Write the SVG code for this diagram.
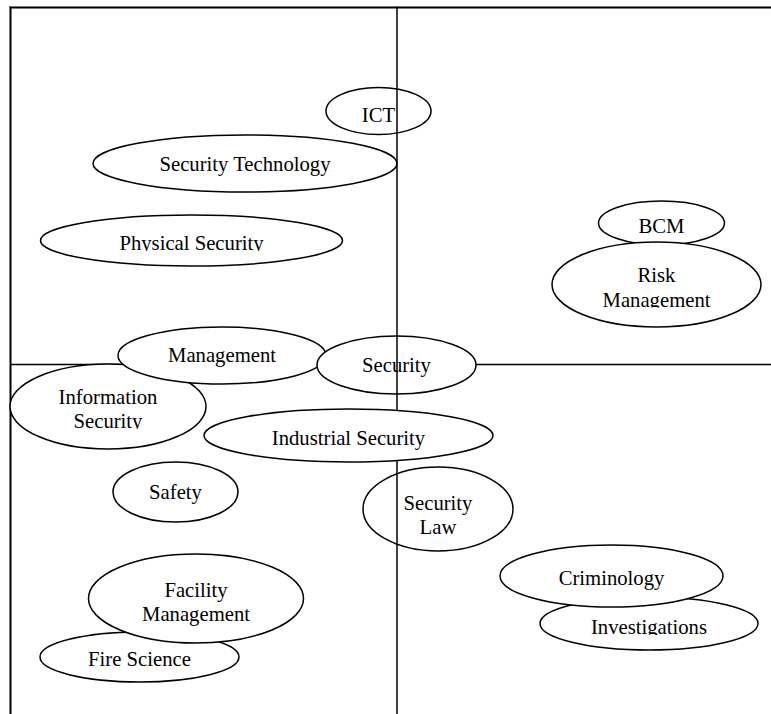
<svg xmlns="http://www.w3.org/2000/svg" width="771" height="714" viewBox="0 0 771 714">
  <style>
    .bubble { fill: #ffffff; stroke: #000000; stroke-width: 1.5; }
    .rule { stroke: #000000; stroke-width: 1.5; fill: none; }
    .edge { stroke: #000000; stroke-width: 2; fill: none; }
    text { font-family: "Liberation Serif", "Times New Roman", serif; font-size: 20.7px; fill: #000000; text-anchor: middle; }
  </style>
  <defs>
    <!-- text boxes that trim the descenders of some labels -->
    <clipPath id="clip-physical"><rect x="0" y="200" width="771" height="51"/></clipPath>
    <clipPath id="clip-risk"><rect x="0" y="250" width="771" height="57.5"/></clipPath>
    <clipPath id="clip-info"><rect x="0" y="380" width="771" height="49"/></clipPath>
    <clipPath id="clip-invest"><rect x="0" y="600" width="771" height="35"/></clipPath>
  </defs>

  <!-- outer frame and horizontal divider (behind the bubbles) -->
  <g id="frame">
    <line class="edge" x1="9.5" y1="7.5" x2="771" y2="7.5"/>
    <line class="edge" x1="10.5" y1="6.5" x2="10.5" y2="714"/>
    <line class="rule" x1="10.5" y1="364.5" x2="771" y2="364.5"/>
  </g>

  <g id="ict">
    <ellipse class="bubble" cx="378.5" cy="111" rx="52.5" ry="23.5"/>
    <text x="378.5" y="121.5">ICT</text>
  </g>
  <g id="security-technology">
    <ellipse class="bubble" cx="245" cy="163.5" rx="152" ry="28.5"/>
    <text x="245" y="171">Security Technology</text>
  </g>
  <g id="physical-security">
    <ellipse class="bubble" cx="191.5" cy="240.5" rx="151" ry="25.5"/>
    <text x="191.5" y="250" clip-path="url(#clip-physical)">Physical Security</text>
  </g>
  <g id="bcm">
    <ellipse class="bubble" cx="661.5" cy="223" rx="63" ry="22"/>
    <text x="661.5" y="233">BCM</text>
  </g>
  <g id="risk-management">
    <ellipse class="bubble" cx="656.5" cy="284.5" rx="104.5" ry="42.5"/>
    <text x="656.5" y="282">Risk</text>
    <text x="656.5" y="307" clip-path="url(#clip-risk)">Management</text>
  </g>
  <g id="information-security">
    <ellipse class="bubble" cx="108" cy="406.5" rx="98" ry="42.5"/>
    <text x="108" y="404">Information</text>
    <text x="108" y="428" clip-path="url(#clip-info)">Security</text>
  </g>
  <g id="management">
    <ellipse class="bubble" cx="222" cy="355.5" rx="104" ry="28.5"/>
    <text x="222" y="362">Management</text>
  </g>
  <g id="security">
    <ellipse class="bubble" cx="396.5" cy="365" rx="79.5" ry="29"/>
    <text x="396.5" y="372">Security</text>
  </g>
  <g id="industrial-security">
    <ellipse class="bubble" cx="348.5" cy="435.5" rx="144.5" ry="26.5"/>
    <text x="348.5" y="444.5">Industrial Security</text>
  </g>
  <g id="safety">
    <ellipse class="bubble" cx="175.5" cy="492" rx="62.5" ry="30"/>
    <text x="175.5" y="499">Safety</text>
  </g>
  <g id="security-law">
    <ellipse class="bubble" cx="438" cy="509" rx="75" ry="42"/>
    <text x="438" y="509.5">Security</text>
    <text x="438" y="534">Law</text>
  </g>
  <g id="fire-science">
    <ellipse class="bubble" cx="139.5" cy="657" rx="99.5" ry="25"/>
    <text x="139.5" y="666">Fire Science</text>
  </g>
  <g id="facility-management">
    <ellipse class="bubble" cx="196" cy="598.5" rx="107.5" ry="44.5"/>
    <text x="196" y="597">Facility</text>
    <text x="196" y="621">Management</text>
  </g>
  <g id="investigations">
    <ellipse class="bubble" cx="649" cy="623.5" rx="109" ry="26.5"/>
    <text x="649" y="634" clip-path="url(#clip-invest)">Investigations</text>
  </g>
  <g id="criminology">
    <ellipse class="bubble" cx="611.5" cy="576" rx="111.5" ry="31"/>
    <text x="611.5" y="585">Criminology</text>
  </g>

  <!-- vertical divider, drawn over the bubbles except where Industrial Security covers it -->
  <g id="divider">
    <line class="rule" x1="397" y1="6.5" x2="397" y2="410.5"/>
    <line class="rule" x1="397" y1="460.5" x2="397" y2="714"/>
  </g>
</svg>
